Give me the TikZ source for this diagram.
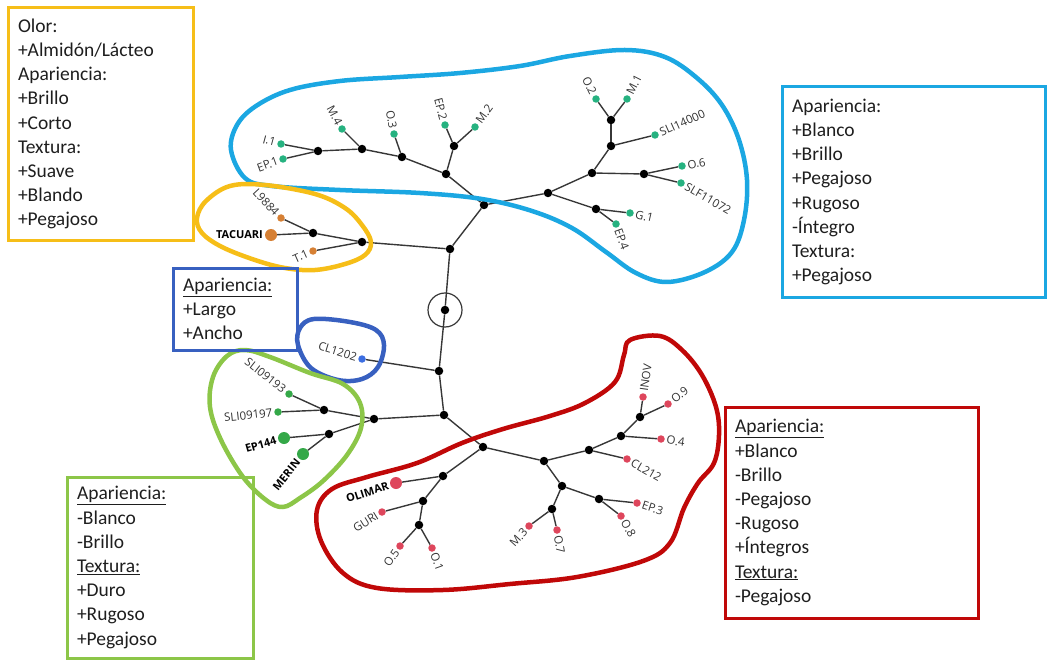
\documentclass[tikz,border=0pt]{standalone}
\usepackage{fontspec}
\setmainfont{Carlito}
\newfontfamily\lblfont{Open Sans}
\definecolor{cTeal}{RGB}{38,178,128}
\definecolor{cOrgLeaf}{RGB}{214,128,52}
\definecolor{cBlueLeaf}{RGB}{60,110,225}
\definecolor{cGreenLeaf}{RGB}{52,168,72}
\definecolor{cRedLeaf}{RGB}{222,70,92}
\definecolor{cSky}{RGB}{27,167,226}
\definecolor{cGold}{RGB}{246,190,24}
\definecolor{cRoyal}{RGB}{56,96,192}
\definecolor{cLime}{RGB}{140,198,72}
\definecolor{cCrimson}{RGB}{192,8,8}
\definecolor{cEdge}{RGB}{55,55,55}
\definecolor{cLbl}{RGB}{50,50,50}
\definecolor{cTxt}{RGB}{30,30,30}
\begin{document}
\begin{tikzpicture}[x=1pt,y=-1pt,
  inode/.style={circle, fill=black, inner sep=0pt, minimum size=8.5pt},
  leafdot/.style={circle, inner sep=0pt, minimum size=7.5pt},
  bigleaf/.style={circle, inner sep=0pt, minimum size=12pt},
  branch/.style={draw=cEdge, line width=1.4pt},
  lbl/.style={font=\lblfont\fontsize{11.5}{13}\selectfont, text=cLbl, inner sep=0pt, inner xsep=5.5pt},
  blbl/.style={font=\lblfont\bfseries\fontsize{11}{13}\selectfont, text=black, inner sep=0pt, inner xsep=8pt},
  textbox/.style={draw, line width=3pt, align=left, inner xsep=10pt, inner ysep=0pt, text=cTxt, font=\fontsize{19.5}{24.2}\selectfont},
  hull/.style={line width=4.5pt, line join=round}
]
\useasboundingbox (0,0) rectangle (1048,660);

% ---------- internal nodes ----------
\foreach \n/\x/\y in {A/318/151, B/362/149, C/402/157, D/454/146, E/446/174, F/484/205,
  G/611/120, H/611/146, I/592/173, J/644/174, K/548/193, L/596/209, M/313/233, N/362/242,
  O/450/249, root/445/310, P/439/371, Q/444/415, R/324/410, S/329/434, T/374/419,
  U/483/447, V/443/476, W/423/501, X/419/525, Y/544/461, Z/589/450, AA/621/436,
  AB/640/417, AC/562/486, AD/599/499, AE/552/509}
  \node[inode] (\n) at (\x,\y) {};
\node[draw=cEdge, circle, line width=1.2pt, minimum size=34pt, inner sep=0pt] (rootc) at (root) {};

% ---------- leaves ----------
\foreach \n/\x/\y in {I1/281/144, EP1/283/159, M4/342/129, O3/394/134, EP2/445/125, M2/475/127,
  O2/596/99, M1/627/99, SLIa/655/135, O6/682/166, SLF/681/183, G1/630/213, EP4/616/224}
  \node[leafdot, fill=cTeal] (\n) at (\x,\y) {};
\node[leafdot, fill=cOrgLeaf] (L9884) at (281,218) {};
\node[bigleaf, fill=cOrgLeaf] (TAC) at (271,235) {};
\node[leafdot, fill=cOrgLeaf] (T1) at (313,251) {};
\node[leafdot, fill=cBlueLeaf] (CL1202) at (362,359) {};
\node[leafdot, fill=cGreenLeaf] (SLIb) at (289,394) {};
\node[leafdot, fill=cGreenLeaf] (SLIc) at (278,412) {};
\node[bigleaf, fill=cGreenLeaf] (EP144) at (284,438) {};
\node[bigleaf, fill=cGreenLeaf] (MERIN) at (303,454) {};
\node[bigleaf, fill=cRedLeaf] (OLIMAR) at (396,483) {};
\foreach \n/\x/\y in {GURI/382/512, O5/400/546, O1/432/548, M3/529/526, O7/557/530, O8/621/516,
  EP3/637/503, CL212/627/459, O4/661/439, INOV/643/397, O9/668/404}
  \node[leafdot, fill=cRedLeaf] (\n) at (\x,\y) {};

% ---------- branches ----------
\foreach \a/\b in {root/O, root/P, O/F, O/N, F/E, F/K, E/C, E/D, D/EP2, D/M2, C/O3, C/B,
  B/M4, B/A, A/I1, A/EP1, K/I, K/L, I/H, I/J, H/G, H/SLIa, G/O2, G/M1, J/O6, J/SLF,
  L/G1, L/EP4, N/M, N/T1, M/L9884, M/TAC, P/CL1202, P/Q, Q/T, Q/U, T/R, T/S,
  R/SLIb, R/SLIc, S/EP144, S/MERIN, U/V, U/Y, V/OLIMAR, V/W, W/GURI, W/X, X/O5, X/O1,
  Y/Z, Y/AC, Z/CL212, Z/AA, AA/O4, AA/AB, AB/INOV, AB/O9, AC/AD, AC/AE, AD/EP3, AD/O8,
  AE/M3, AE/O7}
  \draw[branch] (\a) -- (\b);

% ---------- leaf labels ----------
\node[lbl, anchor=east, rotate=-15] (tI1) at (I1) {I.1};
\node[lbl, anchor=east, rotate=20] (tEP1) at (EP1) {EP.1};
\node[lbl, anchor=east, rotate=-62] (tM4) at (M4) {M.4};
\node[lbl, anchor=east, rotate=-80] (tO3) at (O3) {O.3};
\node[lbl, anchor=east, rotate=-75] (tEP2) at (EP2) {EP.2};
\node[lbl, anchor=west, rotate=54] (tM2) at (M2) {M.2};
\node[lbl, anchor=east, rotate=-64] (tO2) at (O2) {O.2};
\node[lbl, anchor=west, rotate=63] (tM1) at (M1) {M.1};
\node[lbl, anchor=west, rotate=24] (tSLIa) at (SLIa) {SLI14000};
\node[lbl, anchor=west, rotate=10] (tO6) at (O6) {O.6};
\node[lbl, anchor=west, rotate=-30] (tSLF) at (SLF) {SLF11072};
\node[lbl, anchor=west, rotate=-13] (tG1) at (G1) {G.1};
\node[lbl, anchor=west, rotate=-70] (tEP4) at (EP4) {EP.4};
\node[lbl, anchor=east, rotate=-47] (tL9884) at (L9884) {L9884};
\node[blbl, anchor=east] (tTAC) at (TAC) {TACUARI};
\node[lbl, anchor=east, rotate=24] (tT1) at (T1) {T.1};
\node[lbl, anchor=east, rotate=-17] (tCL1202) at (CL1202) {CL1202};
\node[lbl, anchor=east, rotate=-38] (tSLIb) at (SLIb) {SLI09193};
\node[lbl, anchor=east, rotate=6] (tSLIc) at (SLIc) {SLI09197};
\node[blbl, anchor=east, rotate=16] (tEP144) at (EP144) {EP144};
\node[blbl, anchor=east, rotate=51] (tMERIN) at (MERIN) {MERIN};
\node[blbl, anchor=east, rotate=18] (tOLIMAR) at (OLIMAR) {OLIMAR};
\node[lbl, anchor=east, rotate=32] (tGURI) at (GURI) {GURI};
\node[lbl, anchor=east, rotate=55] (tO5) at (O5) {O.5};
\node[lbl, anchor=west, rotate=-70] (tO1) at (O1) {O.1};
\node[lbl, anchor=east, rotate=48] (tM3) at (M3) {M.3};
\node[lbl, anchor=west, rotate=-80] (tO7) at (O7) {O.7};
\node[lbl, anchor=west, rotate=-60] (tO8) at (O8) {O.8};
\node[lbl, anchor=west, rotate=-18] (tEP3) at (EP3) {EP.3};
\node[lbl, anchor=west, rotate=-30] (tCL212) at (CL212) {CL212};
\node[lbl, anchor=west, rotate=-8] (tO4) at (O4) {O.4};
\node[lbl, anchor=west, rotate=82] (tINOV) at (INOV) {INOV};
\node[lbl, anchor=west, rotate=38] (tO9) at (O9) {O.9};

% ---------- hand-drawn hulls ----------
\draw[hull, cSky] plot[smooth cycle, tension=0.6] coordinates {(231,150) (237,125) (256,106) (290,90) (340,81) (400,77) (460,73) (520,66) (570,56) (625,50) (665,57) (697,78) (722,105) (739,140) (747,180) (744,220) (732,252) (705,272) (667,282) (636,273) (606,252) (572,228) (532,211) (482,199) (420,193) (340,190) (272,186) (245,178)};
\draw[hull, cGold] plot[smooth cycle, tension=0.6] coordinates {(197,218) (206,201) (230,186) (265,185) (315,194) (345,208) (362,225) (371,242) (365,255) (345,264) (315,270) (285,268) (255,260) (222,247) (202,233)};
\draw[hull, cRoyal] plot[smooth cycle, tension=0.6] coordinates {(298,345) (300,328) (314,319) (350,322) (376,330) (384,345) (378,367) (362,379) (338,380) (311,368)};
\draw[hull, cLime] plot[smooth cycle, tension=0.6] coordinates {(227,356) (245,350) (270,357) (310,373) (343,384) (360,403) (361,428) (347,455) (323,481) (300,498) (283,507) (266,500) (243,477) (221,440) (210,407) (213,377)};
\draw[hull, cCrimson] plot[smooth cycle, tension=0.6] coordinates {(630,340) (660,336) (682,350) (702,375) (716,407) (719,435) (714,463) (698,483) (684,508) (670,543) (643,561) (577,577) (510,584) (443,590) (377,588) (343,573) (321,541) (317,510) (332,489) (367,477) (417,463) (462,443) (503,429) (550,416) (585,403) (615,382) (624,355)};

% ---------- text boxes ----------
\node[textbox, draw=cGold, text width=165pt, minimum width=185pt, minimum height=232pt] (bGold) at (100.5,124)
  {Olor:\\+Almidón/Lácteo\\Apariencia:\\+Brillo\\+Corto\\Textura:\\+Suave\\+Blando\\+Pegajoso};
\node[textbox, draw=cSky, text width=243pt, minimum width=263pt, minimum height=210pt] (bSky) at (913.5,192)
  {Apariencia:\\+Blanco\\+Brillo\\+Pegajoso\\+Rugoso\\-Íntegro\\Textura:\\+Pegajoso};
\node[textbox, draw=cRoyal, text width=104pt, minimum width=124pt, minimum height=82pt] (bRoyal) at (235,309)
  {\underline{Apariencia:}\\+Largo\\+Ancho};
\node[textbox, draw=cCrimson, text width=233pt, minimum width=253pt, minimum height=211pt] (bCrimson) at (851.5,512.5)
  {\underline{Apariencia:}\\+Blanco\\-Brillo\\-Pegajoso\\-Rugoso\\+Íntegros\\\underline{Textura:}\\-Pegajoso};
\node[textbox, draw=cLime, text width=166pt, minimum width=186pt, minimum height=181pt] (bLime) at (160,567.5)
  {\underline{Apariencia:}\\-Blanco\\-Brillo\\\underline{Textura:}\\+Duro\\+Rugoso\\+Pegajoso};
\end{tikzpicture}
\end{document}
